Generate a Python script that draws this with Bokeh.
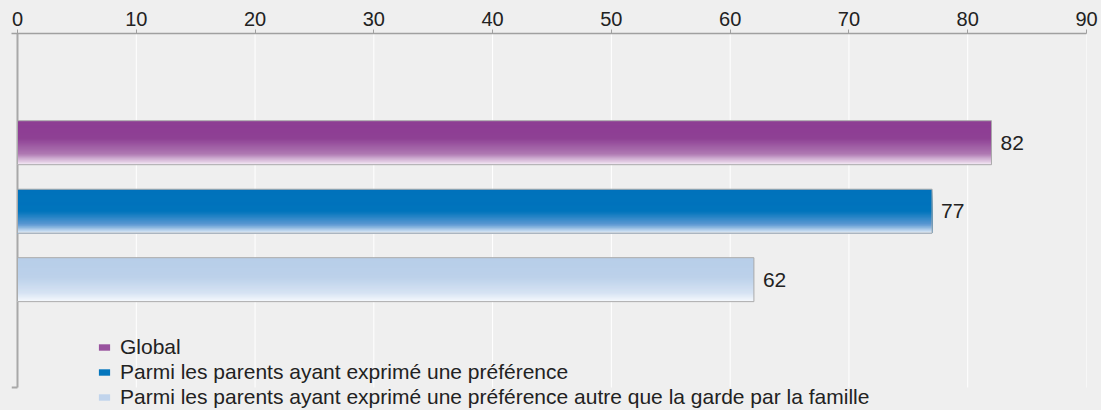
import numpy as np
from bokeh.plotting import figure
from bokeh.models import Range1d, FixedTicker, Legend, LegendItem, ColumnDataSource
from bokeh.embed import file_html
from bokeh.resources import INLINE
from bokeh.core.properties import value

# ---- data ----
categories = [
    "Global",
    "Parmi les parents ayant exprimé une préférence",
    "Parmi les parents ayant exprimé une préférence autre que la garde par la famille",
]
values = [82, 77, 62]
x_ticks = [0, 10, 20, 30, 40, 50, 60, 70, 80, 90]

# ---- styling ----
FONT = "Liberation Sans"
BG = "#efefef"
# gradient stops (fraction from top of bar, colour)
grad_stops = [
    [(0.0, "#8d3d93"), (0.40, "#8e4094"), (0.75, "#ae78b2"), (1.0, "#f6ecf6")],
    [(0.0, "#0072bb"), (0.50, "#0074bc"), (0.80, "#5b98d2"), (1.0, "#e6eff9")],
    [(0.0, "#b7cee9"), (0.45, "#bcd1ea"), (0.80, "#d6e3f3"), (1.0, "#f6f9fd")],
]
BAR_H = 0.642
NSTRIP = 40
Y_TOP = -1.595        # top of plotting frame
Y_AXIS_BOT = 3.575    # where the gridlines / left axis line end
Y_BOT = 3.911         # bottom of the frame (room for the legend)


def hex2rgb(h):
    h = h.lstrip("#")
    return tuple(int(h[i:i + 2], 16) for i in (0, 2, 4))


def grad_color(stops, t):
    for (t0, c0), (t1, c1) in zip(stops[:-1], stops[1:]):
        if t0 <= t <= t1:
            f = 0 if t1 == t0 else (t - t0) / (t1 - t0)
            a, b = hex2rgb(c0), hex2rgb(c1)
            r = [round(a[k] + (b[k] - a[k]) * f) for k in range(3)]
            return "#%02x%02x%02x" % tuple(r)
    return stops[-1][1]


p = figure(
    width=1101, height=410,
    x_range=Range1d(-0.505, 90), y_range=Range1d(Y_BOT, Y_TOP),
    x_axis_location="above",
    output_backend="svg", toolbar_location=None,
    min_border_left=11, min_border_right=15, min_border_top=33, min_border_bottom=0,
    background_fill_color=BG, border_fill_color=BG, outline_line_color=None,
)

# axes
p.yaxis.visible = False
ax = p.xaxis[0]
ax.ticker = FixedTicker(ticks=x_ticks)
ax.major_label_text_font = FONT
ax.major_label_text_font_size = "20px"
ax.major_label_text_color = "#222222"
ax.axis_line_color = "#a0a0a0"
ax.axis_line_width = 1.5
ax.major_tick_line_color = "#a0a0a0"
ax.major_tick_out = 4
ax.major_tick_in = 0
ax.minor_tick_line_color = None
ax.major_label_standoff = 4

p.xgrid.visible = False
p.ygrid.visible = False

# vertical gridlines (ending where the value axis ends)
p.segment(x0=x_ticks[1:], x1=x_ticks[1:], y0=Y_TOP, y1=Y_AXIS_BOT,
          line_color="white", line_width=1)

# left axis line + bottom tick
p.segment(x0=[0], x1=[0], y0=[Y_TOP], y1=[Y_AXIS_BOT], line_color="#a8a8a8", line_width=2)
p.segment(x0=[-0.505], x1=[0], y0=[Y_AXIS_BOT], y1=[Y_AXIS_BOT],
          line_color="#a8a8a8", line_width=2)

# gradient bars (each strip runs from its top edge to the bar bottom, painted top-first)
legend_items = []
for i, (cat, v) in enumerate(zip(categories, values)):
    bottom = i + BAR_H / 2
    ys, hs, cols = [], [], []
    for k in range(NSTRIP):
        top = i - BAR_H / 2 + k * BAR_H / NSTRIP
        ys.append((top + bottom) / 2)
        hs.append(bottom - top)
        cols.append(grad_color(grad_stops[i], (k + 0.5) / NSTRIP))
    src = ColumnDataSource(dict(y=ys, h=hs, right=[v] * NSTRIP, color=cols))
    r = p.hbar(y="y", left=0, right="right", height="h",
               fill_color="color", line_color=None, source=src)
    legend_items.append(LegendItem(label=cat, renderers=[r], index=NSTRIP // 2))

# bar outlines
p.hbar(y=list(range(len(values))), left=0, right=values, height=BAR_H,
       fill_color=None, line_color="#ababab", line_width=1)

# value labels
p.text(x=values, y=list(range(len(values))), text=[str(v) for v in values],
       x_offset=9, text_baseline="middle", text_align="left",
       text_font=value(FONT), text_font_size="21px", text_color="#222222")

legend = Legend(items=legend_items, location=(86, 1), orientation="vertical",
                border_line_color=None, background_fill_alpha=0,
                label_text_font=FONT, label_text_font_size="21px", label_text_color="#222222",
                glyph_width=14, glyph_height=8, label_standoff=9,
                padding=0, margin=0, spacing=1, label_height=22)
p.add_layout(legend, "center")

open("out.html", "w").write(
    file_html(p, INLINE).replace("<body>", '<body style="background-color:#efefef">')
)
